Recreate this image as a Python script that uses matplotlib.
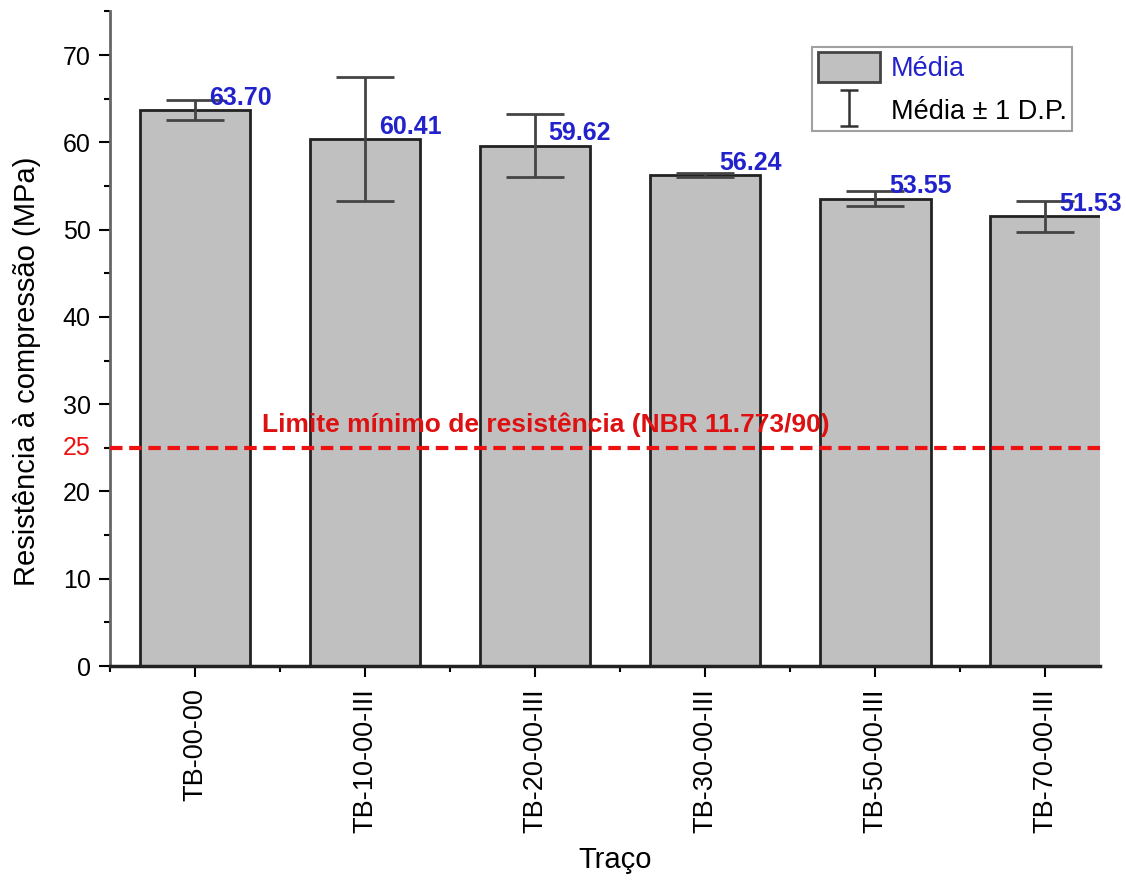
import matplotlib
matplotlib.use("Agg")
import matplotlib.pyplot as plt
from matplotlib.patches import Patch
from matplotlib.lines import Line2D
from matplotlib.path import Path
from matplotlib.ticker import MultipleLocator

plt.rcParams['font.family'] = ['Liberation Sans', 'DejaVu Sans']

categories = ["TB-00-00", "TB-10-00-III", "TB-20-00-III", "TB-30-00-III", "TB-50-00-III", "TB-70-00-III"]
means = [63.70, 60.41, 59.62, 56.24, 53.55, 51.53]
sds = [1.1, 7.1, 3.6, 0.2, 0.85, 1.8]
labels = ["63.70", "60.41", "59.62", "56.24", "53.55", "51.53"]
limit = 25

fig = plt.figure(figsize=(11.26, 8.81), dpi=100)
ax = fig.add_axes([0.0977, 0.244, 0.879, 0.743])

x = list(range(len(categories)))
ax.bar(x, means, width=0.65, color="#c0c0c0", edgecolor="#222222", linewidth=2, zorder=2)
ax.errorbar(x, means, yerr=sds, fmt='none', ecolor="#444444", elinewidth=2,
            capsize=21, capthick=2, zorder=3)
for xi, m, lab in zip(x, means, labels):
    ax.text(xi + 0.08, m + 0.6, lab, color="#2222cc", fontsize=18, fontweight='bold',
            ha='left', va='baseline', zorder=6, clip_on=False)

ax.axhline(limit, color="#ee1111", linestyle=(0, (3, 1.6)), linewidth=3, zorder=5,
           clip_on=False)
ax.text(2.06, 27.7, "Limite mínimo de resistência (NBR 11.773/90)", color="#dd1111",
        fontsize=19, fontweight='bold', ha='center', va='center', zorder=6)

ax.set_xticks(x)
ax.set_xticklabels(categories, rotation=90, fontsize=19.5)
ax.set_xticks([i + 0.5 for i in range(-1, 5)], minor=True)
ax.set_xlim(-0.5, 5.32)
ax.set_ylim(0, 75)
ax.yaxis.set_major_locator(MultipleLocator(10))
ax.yaxis.set_minor_locator(MultipleLocator(5))
ax.tick_params(axis='y', labelsize=18, length=8, width=1.5, direction='out', pad=6)
ax.tick_params(axis='y', which='minor', length=4, width=1.5)
ax.tick_params(axis='x', length=8, width=1.5, direction='out', pad=8)
ax.tick_params(axis='x', which='minor', length=4, width=1.5)

# red extra tick label at limit
ax.text(-0.02, limit, "25", transform=ax.get_yaxis_transform(), color="#ee1111",
        fontsize=18, ha='right', va='center')

for s in ['top', 'right']:
    ax.spines[s].set_visible(False)
ax.spines['left'].set_linewidth(2)
ax.spines['left'].set_color("#666666")
ax.spines['bottom'].set_linewidth(2.5)
ax.spines['bottom'].set_color("#222222")

ax.set_ylabel("Resistência à compressão (MPa)", fontsize=21)
ax.yaxis.set_label_coords(-0.07, 0.45)
ax.set_xlabel("Traço", fontsize=21)
ax.xaxis.set_label_coords(0.51, -0.275)

ibar = Path([(-0.5, 1), (0.5, 1), (0, 1), (0, -1), (-0.5, -1), (0.5, -1)],
            [Path.MOVETO, Path.LINETO, Path.MOVETO, Path.LINETO, Path.MOVETO, Path.LINETO])
handles = [Patch(facecolor="#c0c0c0", edgecolor="#444444", linewidth=2),
           Line2D([], [], marker=ibar, linestyle='none', markersize=26,
                  markeredgecolor="#333333", markerfacecolor='none', markeredgewidth=1.8)]
leg = ax.legend(handles, ["Média", "Média ± 1 D.P."], loc='upper right',
                bbox_to_anchor=(0.972, 0.946), fontsize=19.5, frameon=True, fancybox=False,
                edgecolor="#888888", handlelength=2.3, handleheight=1.3, borderpad=0.2,
                labelspacing=0.5, handletextpad=0.4, borderaxespad=0)
leg.get_frame().set_linewidth(1.5)
leg.get_texts()[0].set_color("#2222cc")

fig.savefig("out.png", dpi=100)
